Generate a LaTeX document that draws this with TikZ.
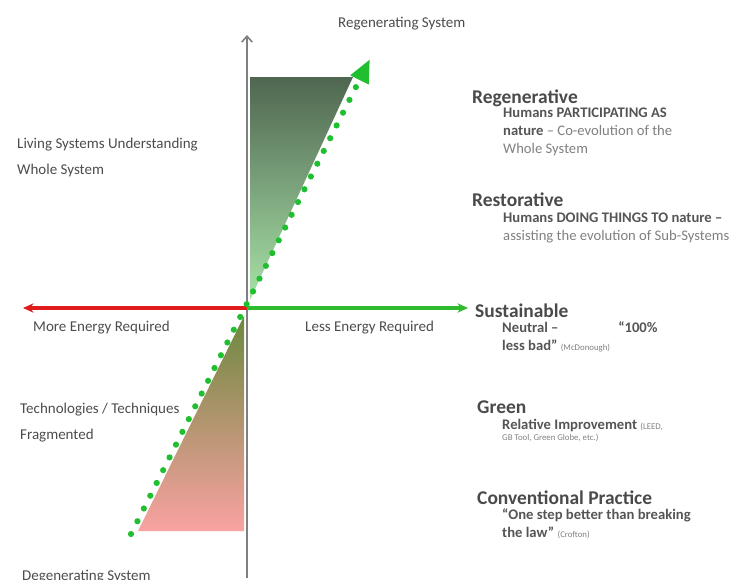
\documentclass[tikz,border=0pt]{standalone}
\usepackage{fontspec}
\setmainfont{Carlito}
\usetikzlibrary{arrows.meta}

\definecolor{lblgray}{HTML}{4C4C4C}
\definecolor{headgray}{HTML}{4A4A4A}
\definecolor{subdark}{HTML}{555555}
\definecolor{sublight}{HTML}{808080}
\definecolor{dotgreen}{HTML}{1FBF2F}
\definecolor{axred}{HTML}{E01B1B}
\definecolor{axgreen}{HTML}{2EBB2E}
\definecolor{wedgetop}{HTML}{4F6650}
\definecolor{wedgelow}{HTML}{A8E2A8}
\newcommand{\dk}[1]{{\bfseries\color{subdark}#1}}

\begin{document}
\begin{tikzpicture}[x=0.03cm,y=-0.03cm,
    lbl/.style={font=\fontsize{12.8}{15}\selectfont,text=lblgray,inner sep=0pt,anchor=base west},
    head/.style={font=\fontsize{16.6}{19}\selectfont\bfseries,text=headgray,inner sep=0pt,anchor=base west},
    sub/.style={font=\fontsize{12.5}{15.2}\selectfont,text=sublight,inner sep=0pt,align=left,anchor=base west},
    note/.style={font=\fontsize{7.5}{9}\selectfont,text=sublight}]

    \useasboundingbox (0,0) rectangle (729,579);

    % axes and line ends
    \coordinate (o) at (247,308);
    \coordinate (up) at (247,35);
    \coordinate (down) at (247,578);
    \coordinate (west) at (23,308);
    \coordinate (east) at (468,308);
    \coordinate (dotA) at (131,534);
    \coordinate (dotB) at (370,59);

    % gradient wedges
    \shade[top color=wedgetop, bottom color=wedgelow]
        (250,77) -- (353,77) -- (250,300) -- cycle;
    \shade[top color={rgb,255:red,108;green,136;blue,62}, middle color={rgb,255:red,218;green,140;blue,100},
        bottom color={rgb,255:red,250;green,162;blue,162}]
        (244,316) -- (244,531) -- (138,531) -- cycle;

    \draw[gray,line width=1.4pt,-{Straight Barb[length=5pt,width=9pt]}] (down) -- (up);
    \draw[axred,line width=2.6pt,-{Stealth[length=9pt,width=8pt]}] (o) -- (west);
    \draw[axgreen,line width=2.6pt,-{Stealth[length=9pt,width=8pt]}] (o) -- (east);

    \draw[dotgreen,line width=5.3pt,line cap=round,dash pattern=on 0pt off 12.2pt,
        -{Triangle[length=20pt,width=16pt]}] (dotA) -- (dotB);

    % left side
    \node[lbl] (regsys) at (338,27) {Regenerating System};
    \node[lbl] (living) at (17,148) {Living Systems Understanding};
    \node[lbl] (whole) at (17,174) {Whole System};
    \node[lbl] (more) at (33,331) {More Energy Required};
    \node[lbl] (less) at (305,331) {Less Energy Required};
    \node[lbl] (tech) at (20,413) {Technologies / Techniques};
    \node[lbl] (frag) at (20,439) {Fragmented};
    \node[lbl] (degsys) at (22,580) {Degenerating System};

    % right side (multi-line texts sit on their last line)
    \node[head] (regen) at (472,103) {Regenerative};
    \node[sub] (regenTxt) at (503,153) {\dk{Humans PARTICIPATING AS}\\\dk{nature} -- Co-evolution of the\\Whole System};
    \node[head] (restor) at (472,206) {Restorative};
    \node[sub] (restorTxt) at (503,240) {\dk{Humans DOING THINGS TO nature --}\\assisting the evolution of Sub-Systems};
    \node[head] (sustain) at (475,317) {Sustainable};
    \node[sub] (sustainTxt) at (502,350) {\dk{Neutral --}\hspace{51pt}\dk{“100\%}\\\dk{less bad”} {\fontsize{7.5}{9}\selectfont(McDonough)}};
    \node[head] (green) at (477,413) {Green};
    \node[sub] (greenTxt) at (502,429) {\dk{Relative Improvement} {\fontsize{7.5}{9}\selectfont(LEED,}};
    \node[sub,note] (greenNote) at (502,440) {GB Tool, Green Globe, etc.)};
    \node[head] (conv) at (477,504) {Conventional Practice};
    \node[sub] (convTxt) at (502,537) {\dk{“One step better than breaking}\\\dk{the law”} {\fontsize{7.5}{9}\selectfont(Crofton)}};
\end{tikzpicture}
\end{document}
